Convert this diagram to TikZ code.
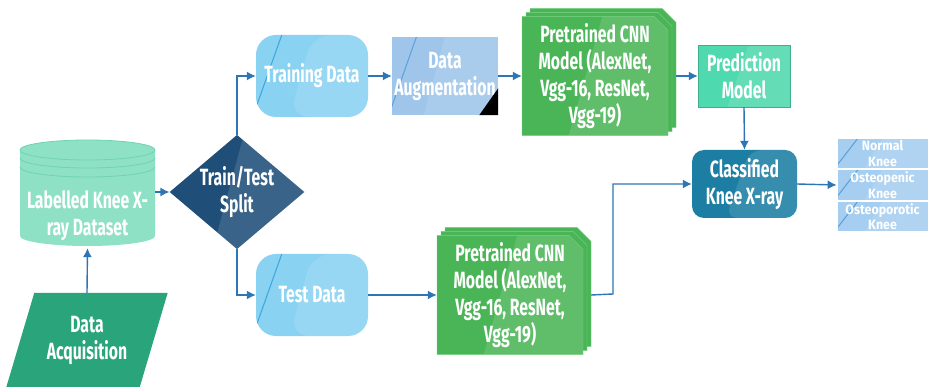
\documentclass[tikz,border=0pt]{standalone}
\usepackage{fontspec}
\setmainfont{Fira Sans}[FakeStretch=0.67]
\newfontfamily\cellfont{Fira Sans}[FakeStretch=0.92]
\usetikzlibrary{positioning,shapes.geometric,shapes.misc,shadows,arrows.meta,calc}

\definecolor{arrowblue}{HTML}{2E75B6}
\definecolor{mint}{HTML}{8FE1C6}
\definecolor{mintline}{HTML}{6FD3B1}
\definecolor{navy}{HTML}{1F4E79}
\definecolor{acqgreen}{HTML}{2AA57B}
\definecolor{skyblue}{HTML}{8AD2F2}
\definecolor{skyline}{HTML}{3AA6DD}
\definecolor{augblue}{HTML}{9FC6EA}
\definecolor{augline}{HTML}{5C9FD8}
\definecolor{cnngreen}{HTML}{4AB556}
\definecolor{cnnedge}{HTML}{7BD487}
\definecolor{predmint}{HTML}{4FD9AE}
\definecolor{clsteal}{HTML}{1C7EA2}
\definecolor{cellblue}{HTML}{A5CEF0}

\tikzset{
  txt/.style={text=white,align=center,font=\fontsize{23.5}{27}\selectfont\bfseries},
  flow/.style={draw=arrowblue,line width=1.4pt,-{Latex[length=9pt,width=9pt]}},
  gloss/.style={path picture={
    \fill[white,opacity=.12]
      ($(path picture bounding box.north west)!.55!(path picture bounding box.north east)$)
      -- (path picture bounding box.north east) -- (path picture bounding box.south east)
      -- ($(path picture bounding box.south west)!.32!(path picture bounding box.south east)$) -- cycle;}},
  glossline/.style={path picture={
    \fill[white,opacity=.12]
      ($(path picture bounding box.north west)!.5!(path picture bounding box.north east)$)
      -- (path picture bounding box.north east) -- (path picture bounding box.south east)
      -- ($(path picture bounding box.south west)!.3!(path picture bounding box.south east)$) -- cycle;
    \draw[#1,line width=1pt]
      ($(path picture bounding box.north west)!.23!(path picture bounding box.north east)$)
      -- ($(path picture bounding box.south west)!-.03!(path picture bounding box.south east)$);}},
  databox/.style={txt,rounded corners=20pt,fill=skyblue,minimum width=112pt,minimum height=82pt,inner sep=0pt,glossline=skyline},
  cnnbox/.style={txt,chamfered rectangle,chamfered rectangle corners=north east,
    chamfered rectangle xsep=7pt,chamfered rectangle ysep=7pt,
    fill=cnngreen,draw=cnnedge,minimum width=146pt,minimum height=115pt,inner sep=0pt,gloss,
    double copy shadow={shadow xshift=4pt,shadow yshift=4pt,fill=cnngreen,draw=cnnedge}},
  cell/.style={text=white,align=center,font=\cellfont\fontsize{13.5}{15.5}\selectfont\bfseries,
    fill=cellblue,draw=white,line width=.8pt,minimum width=91pt,minimum height=30.7pt,inner sep=0pt,glossline=augline}
}

\begin{document}
\begin{tikzpicture}[x=1pt,y=-1pt]
\useasboundingbox (0,0) rectangle (929,387);
\fill[white] (0,0) rectangle (929,387);

% dataset cylinder
\fill[mint] (20,150) -- (20,236) arc[start angle=180,end angle=360,x radius=67.5pt,y radius=10pt]
  -- (155,150) arc[start angle=0,end angle=180,x radius=67.5pt,y radius=10pt] -- cycle;
\draw[mintline,line width=.8pt] (87.5,150) ellipse[x radius=67.5pt,y radius=10pt];
\foreach \dy in {158,167}
  \draw[mintline,line width=.8pt] (20,\dy) arc[start angle=180,end angle=360,x radius=67.5pt,y radius=10pt];
\node[txt,minimum width=135pt,minimum height=64pt,inner sep=0pt] (dataset) at (87.5,216) {Labelled Knee X-\\ray Dataset};

% parallelogram
\node[txt,minimum width=133pt,minimum height=94pt,inner sep=0pt] (acq) at (87,340) {};
\fill[acqgreen] ([xshift=14pt]acq.north west) -- ([xshift=14pt]acq.north east)
  -- ([xshift=-14pt]acq.south east) -- ([xshift=-14pt]acq.south west) -- cycle;
\node[txt] at (acq) {Data\\Acquisition};

\node[txt,diamond,aspect=1.18,fill=navy,minimum width=130pt,minimum height=110pt,inner sep=0pt,gloss] (split) at (237,192) {Train/Test\\Split};

\node[databox] (train) at (312,76) {Training Data};
\node[databox] (test) at (312,295) {Test Data};

\node[txt,fill=augblue,minimum width=106pt,minimum height=78pt,inner sep=0pt,glossline=augline] (aug) at (445,76) {Data\\Augmentation};
\fill[black] (aug.south east) -- ++(0,-27) -- ++(-19,27) -- cycle;

\node[cnnbox] (cnn1) at (595,76) {Pretrained CNN\\Model (AlexNet,\\Vgg-16, ResNet,\\Vgg-19)};
\node[cnnbox] (cnn2) at (510,295) {Pretrained CNN\\Model (AlexNet,\\Vgg-16, ResNet,\\Vgg-19)};

\node[txt,fill=predmint,draw=predmint!80!black,line width=.4pt,minimum width=92pt,minimum height=62pt,inner sep=0pt,gloss] (pred) at (744,76) {Prediction\\Model};

\node[txt,rounded corners=12pt,fill=clsteal,minimum width=105pt,minimum height=68pt,inner sep=0pt,gloss] (cls) at (744.5,184) {Classified\\Knee X-ray};

\node[cell] (normal) at (882.5,153.5) {Normal\\Knee};
\node[cell,below=0pt of normal] (penic) {Osteopenic\\Knee};
\node[cell,below=0pt of penic] (porotic) {Osteoporotic\\Knee};

\coordinate (bend) at (613,294);

\draw[flow] (acq.north) -- (dataset.south);
\draw[flow] (dataset.east |- split.west) -- (split.west);
\draw[flow] (split.north) |- (train.west);
\draw[flow] (split.south) |- (test.west);
\draw[flow] (train.east) -- (aug.west);
\draw[flow] (aug.east) -- (cnn1.west);
\draw[flow] ([xshift=8pt]cnn1.east) -- (pred.west);
\draw[flow] (pred.south) -- (cls.north);
\draw[flow] (test.east) -- (cnn2.west);
\draw[flow] ([xshift=8pt]cnn2.east) -- (bend) |- (cls.west);
\draw[flow] (cls.east) -- (penic.west);
\end{tikzpicture}
\end{document}
